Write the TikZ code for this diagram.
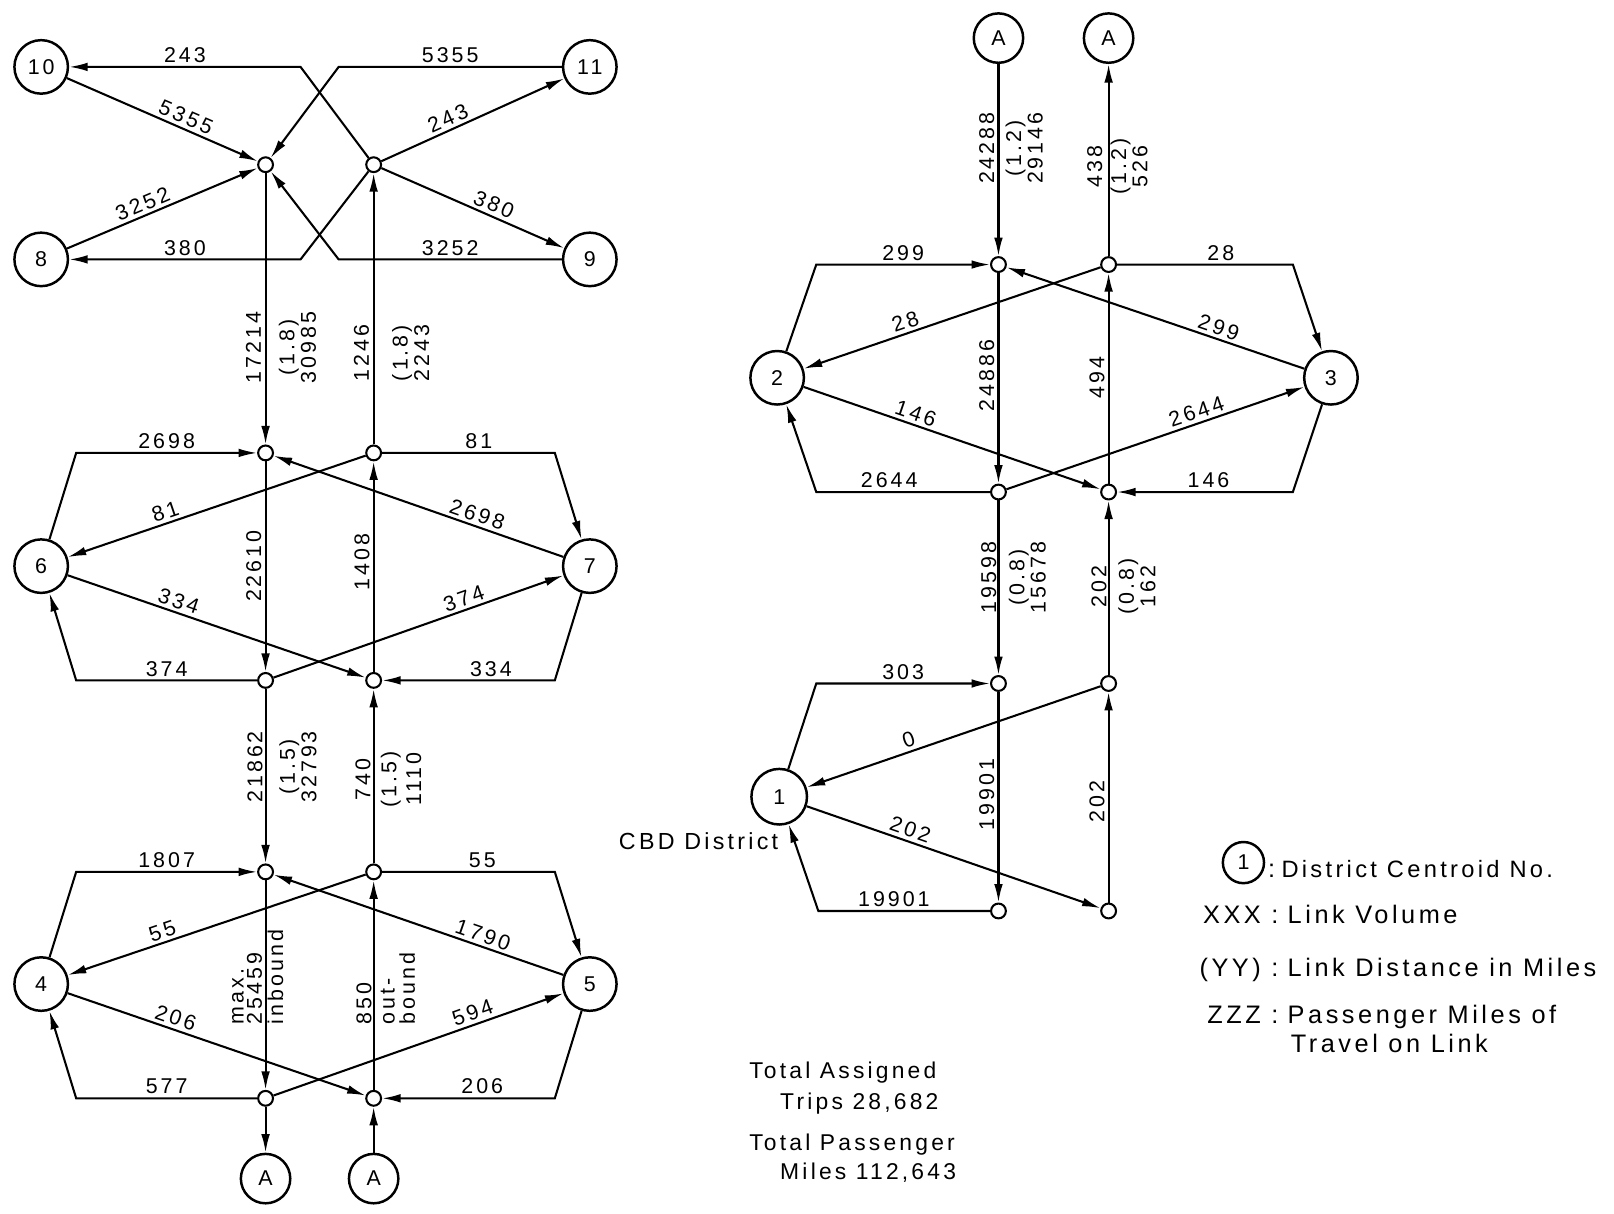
\documentclass[tikz,border=0pt]{standalone}
\usepackage{fontspec}
\setmainfont{Liberation Sans}[LetterSpace=14]
\usetikzlibrary{arrows.meta}

\tikzset{
  dist/.style={circle, draw, line width=1.2pt, minimum size=26pt, inner sep=0pt},
  jn/.style={circle, draw, line width=1pt, minimum size=7.2pt, inner sep=0pt, fill=white},
  lbl/.style={inner sep=1.5pt, sloped, above},
  vl/.style={rotate=90, align=center, inner sep=0pt},
  txt/.style={inner sep=0pt},
}

\begin{document}
\begin{tikzpicture}[x=0.5pt, y=-0.5pt, line width=1pt,
    >={Latex[length=9pt,width=4.2pt]},
    font=\fontsize{10.4}{12}\selectfont]
  \useasboundingbox (0,0) rectangle (1568,1179);

  % districts
  \node[dist] (n10) at (40,65) {10};
  \node[dist] (n11) at (573,65) {11};
  \node[dist] (n8) at (40,252) {8};
  \node[dist] (n9) at (573,252) {9};
  \node[dist] (n6) at (40,550) {6};
  \node[dist] (n7) at (573,550) {7};
  \node[dist] (n4) at (40,956) {4};
  \node[dist] (n5) at (573,956) {5};
  \node[dist] (n2) at (755,367) {2};
  \node[dist] (n3) at (1293,367) {3};
  \node[dist, minimum size=27pt] (n1) at (757,774) {1};
  \node[dist, minimum size=24pt] (aa) at (258,1145) {A};
  \node[dist, minimum size=24pt] (ab) at (363,1145) {A};
  \node[dist, minimum size=24pt] (ta) at (970,37) {A};
  \node[dist, minimum size=24pt] (tb) at (1077,37) {A};

  % junctions
  \foreach \n/\x/\y in {ja/258/160, jb/363/160, jc/258/440, jd/363/440,
      je/258/661, jf/363/661, jg/258/847, jh/363/847, ji/258/1067, jj/363/1067,
      ka/970/257, kb/1077/257, kc/970/478, kd/1077/478,
      ke/970/664, kf/1077/664, kg/970/885, kh/1077/885}
    \node[jn] (\n) at (\x,\y) {};

  % bends
  \foreach \n/\x/\y in {p1/292/65, p2/329/65, p3/292/252, p4/329/252,
      q1/74/440, q2/539/440, q3/74/661, q4/539/661,
      q5/74/847, q6/539/847, q7/74/1067, q8/539/1067,
      r1/793/257, r2/1256/257, r3/793/478, r4/1256/478, r5/793/664, r6/795/885}
    \coordinate (\n) at (\x,\y);

  % trunk lines
  \foreach \s/\t in {ja/jc, jd/jb, jc/je, jf/jd, je/jg, jh/jf, jg/ji, jj/jh, ji/aa, ab/jj,
      ta/ka, kb/tb, ka/kc, kd/kb, kc/ke, kf/kd, ke/kg, kh/kf}
    \draw[->] (\s) -- (\t);

  % straight links
  \foreach \s/\t/\p/\l in {n10/ja/.6/5355, n8/ja/.42/3252, jb/n11/.39/243, jb/n9/.59/380,
      jd/n6/.66/81, n7/jc/.31/2698, n6/jf/.36/334, je/n7/.67/374,
      jh/n4/.67/55, n5/jg/.29/1790, n4/jj/.35/206, ji/n5/.7/594,
      kb/n2/.645/28, n3/ka/.3/299, n2/kd/.365/146, kc/n3/.65/2644,
      kf/n1/.64/0, n1/kh/.34/202}
    \draw[->] (\s) -- node[lbl, pos=\p] {\l} (\t);

  % bent links
  \foreach \s/\b/\t/\p/\l in {jb/p1/n10/.5/243, jb/p3/n8/.5/380, n6/q1/jc/.5/2698,
      n7/q4/jf/.37/334, n4/q5/jg/.5/1807, n5/q8/jj/.42/206,
      n2/r1/ka/.5/299, n3/r4/kd/.48/146, n1/r5/ke/.5/303}
    \draw[->] (\s) -- (\b) -- node[lbl, pos=\p] {\l} (\t);
  \foreach \s/\b/\t/\p/\l in {n11/p2/ja/.5/5355, n9/p4/ja/.5/3252, jd/q2/n7/.56/81,
      je/q3/n6/.5/374, jh/q6/n5/.58/55, ji/q7/n4/.5/577,
      kb/r2/n3/.59/28, kc/r3/n2/.58/2644, kg/r6/n1/.56/19901}
    \draw[->] (\s) -- node[lbl, pos=\p] {\l} (\b) -- (\t);

  % trunk labels
  \node[vl, anchor=south] (v1) at (254.5,337.5) {17214};
  \node[vl, anchor=north, font=\fontsize{10.4}{8}\selectfont] (v1b) at (270,337.5) {(1.8)\\30985};
  \node[vl, anchor=south] (v2) at (359.5,343) {1246};
  \node[vl, anchor=north, font=\fontsize{10.4}{8}\selectfont] (v2b) at (380,343) {(1.8)\\2243};
  \node[vl, anchor=south] (v3) at (255,550) {22610};
  \node[vl, anchor=south] (v4) at (360,546) {1408};
  \node[vl, anchor=south] (v5) at (256,745) {21862};
  \node[vl, anchor=north, font=\fontsize{10.4}{8.5}\selectfont] (v5b) at (270.5,745) {(1.5)\\32793};
  \node[vl, anchor=south] (v6) at (361,757) {740};
  \node[vl, anchor=north, font=\fontsize{10.4}{12}\selectfont] (v6b) at (369,757) {(1.5)\\1110};
  \node[vl, align=left, anchor=south west, font=\fontsize{10.4}{8.75}\selectfont] (v7) at (255.5,996) {max.\\25459};
  \node[vl, anchor=north west] (v7b) at (259,996) {inbound};
  \node[vl, anchor=south west] (v8) at (362,996) {850};
  \node[vl, align=left, anchor=north west, font=\fontsize{10.4}{9.75}\selectfont] (v8b) at (369,996) {out-\\bound};
  \node[vl, anchor=south] (v9) at (967,144) {24288};
  \node[vl, anchor=north, font=\fontsize{10.4}{9.25}\selectfont] (v9b) at (976,144) {(1.2)\\29146};
  \node[vl, anchor=south] (v10) at (1072,162) {438};
  \node[vl, anchor=north, font=\fontsize{10.4}{10.25}\selectfont] (v10b) at (1078,162) {(1.2)\\526};
  \node[vl, anchor=south] (v11) at (967,365) {24886};
  \node[vl, anchor=south] (v12) at (1074,367) {494};
  \node[vl, anchor=south] (v13) at (969,561) {19598};
  \node[vl, anchor=north, font=\fontsize{10.4}{8.5}\selectfont] (v13b) at (979,561) {(0.8)\\15678};
  \node[vl, anchor=south] (v14) at (1076,570) {202};
  \node[vl, anchor=north, font=\fontsize{10.4}{8}\selectfont] (v14b) at (1085.5,570) {(0.8)\\162};
  \node[vl, anchor=south] (v15) at (967,772) {19901};
  \node[vl, anchor=south] (v16) at (1074,779) {202};

  \node[txt, anchor=base east, font=\fontsize{11.3}{13}\selectfont] (cbd) at (757,825) {CBD District};

  % legend
  \begin{scope}[every node/.append style={font=\fontsize{12.3}{14}\selectfont}]
    \node[dist, minimum size=20pt, font=\fontsize{10.4}{12}\selectfont] (lg) at (1208,838) {1};
    \node[txt, anchor=base west] (lg0) at (1231,852) {:};
    \node[txt, anchor=base west, font=\fontsize{11.5}{14}\selectfont] (lg1) at (1244,852) {District Centroid No.};
    \node[txt, anchor=base east] (lk2) at (1243,897) {XXX :};
    \node[txt, anchor=base west] (lg2) at (1250,897) {Link Volume};
    \node[txt, anchor=base east] (lk3) at (1243,949) {(YY) :};
    \node[txt, anchor=base west] (lg3) at (1250,949) {Link Distance in Miles};
    \node[txt, anchor=base east] (lk4) at (1243,994) {ZZZ :};
    \node[txt, anchor=base west] (lg4) at (1250,994) {Passenger Miles of};
    \node[txt, anchor=base west] (lg5) at (1253,1022) {Travel on Link};
  \end{scope}

  % totals
  \begin{scope}[every node/.append style={font=\fontsize{11.1}{13}\selectfont}]
    \node[txt, anchor=base west] (tt1) at (727,1048) {Total Assigned};
    \node[txt, anchor=base west] (tt2) at (757,1078) {Trips 28,682};
    \node[txt, anchor=base west] (tt3) at (727,1118) {Total Passenger};
    \node[txt, anchor=base west] (tt4) at (757,1146) {Miles 112,643};
  \end{scope}
\end{tikzpicture}
\end{document}
